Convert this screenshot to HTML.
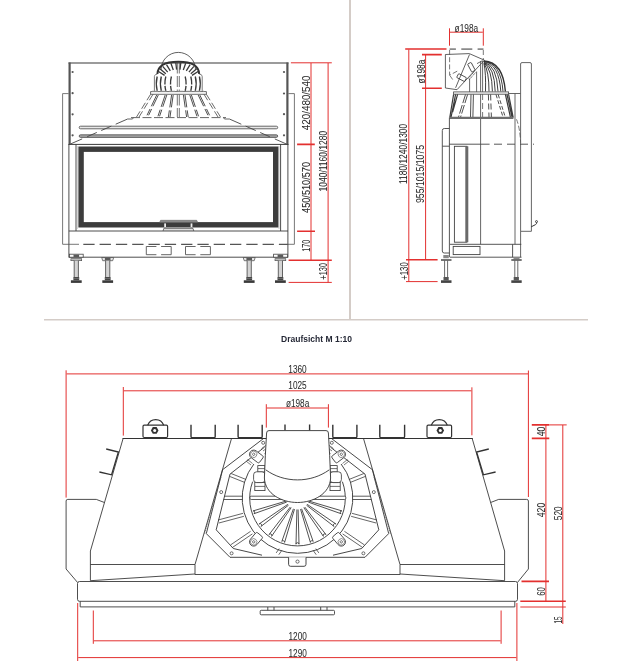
<!DOCTYPE html>
<html><head><meta charset="utf-8"><title>Draufsicht</title>
<style>
html,body{margin:0;padding:0;background:#fff;width:635px;height:668px;overflow:hidden}
svg{display:block;will-change:transform}
</style></head>
<body>
<svg width="635" height="668" viewBox="0 0 635 668" font-family="'Liberation Sans', sans-serif">
<defs>
<style>
.ln{fill:none;stroke:#3a3a3a;stroke-width:0.9}
.lt{fill:none;stroke:#555;stroke-width:0.8}
.lg{fill:none;stroke:#777;stroke-width:1.1}
.th{fill:none;stroke:#505050;stroke-width:2}
.ds{fill:none;stroke:#555;stroke-width:1.2;stroke-dasharray:11.3 5}
.rd{fill:none;stroke:#e3302f;stroke-width:1}
.rt{fill:none;stroke:#e3302f;stroke-width:1.6}
.tx{fill:#2a2a2a;font-size:10.2px;stroke:#2a2a2a;stroke-width:0.05}
</style>
</defs>

<!-- dividers -->
<line x1="350" y1="0" x2="350" y2="320" stroke="#d4ccc7" stroke-width="2"/>
<line x1="44" y1="319.8" x2="588" y2="319.8" stroke="#d4ccc7" stroke-width="1.6"/>
<text x="281" y="341.6" font-size="9.3" font-weight="bold" fill="#252836" textLength="71" lengthAdjust="spacingAndGlyphs">Draufsicht M 1:10</text>

<!-- ================= FRONT VIEW ================= -->
<g id="front">
<!-- upper box -->
<line x1="68.5" y1="63" x2="288.5" y2="63" stroke="#7a7a7a" stroke-width="1.3"/>
<line x1="69.6" y1="62.5" x2="69.6" y2="144.5" stroke="#555" stroke-width="2.2"/>
<line x1="287.4" y1="62.5" x2="287.4" y2="144.5" stroke="#555" stroke-width="2.2"/>
<g fill="#555">
<circle cx="72.6" cy="72" r="1.1"/><circle cx="72.6" cy="93.2" r="1.1"/><circle cx="72.6" cy="114.3" r="1.1"/><circle cx="72.6" cy="135.3" r="1.1"/>
<circle cx="284" cy="72" r="1.1"/><circle cx="284" cy="93.5" r="1.1"/><circle cx="284" cy="114.2" r="1.1"/><circle cx="284" cy="135.3" r="1.1"/>
</g>
<!-- side flanges -->
<path class="lt" d="M68.6,93.6 H62.6 V244.3"/>
<path class="lt" d="M288.4,93.6 H294.4 V244.3 H288"/>
<!-- divider line top section / glass -->
<line x1="68.6" y1="144.4" x2="288.4" y2="144.4" stroke="#3a3a3a" stroke-width="1"/>
<!-- lower box sides -->
<line class="ln" x1="68.9" y1="144" x2="68.9" y2="257.5"/>
<line class="ln" x1="287.9" y1="144" x2="287.9" y2="257.5"/>
<line class="ln" x1="76" y1="144.4" x2="76" y2="231"/>
<line class="ln" x1="280.6" y1="144.4" x2="280.6" y2="231"/>
<line x1="77.3" y1="146" x2="77.3" y2="229" stroke="#aaa" stroke-width="0.6"/>
<line x1="279" y1="146" x2="279" y2="229" stroke="#aaa" stroke-width="0.6"/>
<!-- glass frame -->
<rect x="81.1" y="149.2" width="194.6" height="75.6" fill="none" stroke="#3c3c3c" stroke-width="5.4"/>
<!-- handle -->
<path d="M159.6,222.4 L160.6,220.3 H196.7 L197.7,222.4 Z" fill="#8d8d8d" stroke="#555" stroke-width="0.5"/>
<rect x="164.2" y="223.4" width="1.8" height="3.6" fill="#eee"/>
<rect x="190.6" y="223.4" width="1.8" height="3.6" fill="#eee"/>
<path d="M163,231 L163.8,228.4 H193 L193.8,231" fill="#ddd" stroke="#444" stroke-width="0.7"/>
<!-- base -->
<line class="ln" x1="68.9" y1="231" x2="288" y2="231"/>
<line class="ds" x1="83.3" y1="244.3" x2="288" y2="244.3"/>
<line class="lt" x1="62.6" y1="244.3" x2="79" y2="244.3" stroke-width="1.1"/>
<line class="ln" x1="68.9" y1="257.2" x2="288" y2="257.2"/>
<path d="M156.4,246.5 H146.3 V254.7 H156.4 M161.1,246.5 H171.2 V254.7 H161.1 M195.6,246.5 H185.5 V254.7 H195.6 M200.3,246.5 H210.4 V254.7 H200.3" fill="none" stroke="#555" stroke-width="0.9"/>
<!-- FEET START -->
<rect x="69.4" y="254.2" width="13.8" height="3" fill="#fff" stroke="#444" stroke-width="0.8"/>
<rect x="73.50" y="254.6" width="5.6" height="2.4" fill="#5a5a5a"/>
<rect x="70.90" y="258.7" width="10.8" height="2" fill="#bbb" stroke="#444" stroke-width="0.6"/>
<rect x="74.20" y="260.7" width="4.2" height="16.3" fill="#d4d4d4"/>
<path d="M74.20,260.7 V277.0 M78.40,260.7 V277.0" fill="none" stroke="#4a4a4a" stroke-width="0.85"/>
<rect x="73.40" y="277.0" width="5.8" height="3.3" fill="#454545"/>
<line x1="73.40" y1="278.4" x2="79.20" y2="278.4" stroke="#999" stroke-width="0.5"/>
<rect x="70.90" y="280.3" width="10.8" height="2.6" fill="#3a3a3a"/>
<path d="M101.70,257.5 H113.70 L112.70,260.7 H102.70 Z" fill="#e6e6e6" stroke="#444" stroke-width="0.7"/>
<rect x="104.90" y="257.8" width="5.6" height="2.7" fill="#5a5a5a"/>
<rect x="105.60" y="260.7" width="4.2" height="16.3" fill="#d4d4d4"/>
<path d="M105.60,260.7 V277.0 M109.80,260.7 V277.0" fill="none" stroke="#4a4a4a" stroke-width="0.85"/>
<rect x="104.80" y="277.0" width="5.8" height="3.3" fill="#454545"/>
<line x1="104.80" y1="278.4" x2="110.60" y2="278.4" stroke="#999" stroke-width="0.5"/>
<rect x="102.30" y="280.3" width="10.8" height="2.6" fill="#3a3a3a"/>
<path d="M243.20,257.5 H255.20 L254.20,260.7 H244.20 Z" fill="#e6e6e6" stroke="#444" stroke-width="0.7"/>
<rect x="246.40" y="257.8" width="5.6" height="2.7" fill="#5a5a5a"/>
<rect x="247.10" y="260.7" width="4.2" height="16.3" fill="#d4d4d4"/>
<path d="M247.10,260.7 V277.0 M251.30,260.7 V277.0" fill="none" stroke="#4a4a4a" stroke-width="0.85"/>
<rect x="246.30" y="277.0" width="5.8" height="3.3" fill="#454545"/>
<line x1="246.30" y1="278.4" x2="252.10" y2="278.4" stroke="#999" stroke-width="0.5"/>
<rect x="243.80" y="280.3" width="10.8" height="2.6" fill="#3a3a3a"/>
<rect x="273.6" y="254.2" width="13.8" height="3" fill="#fff" stroke="#444" stroke-width="0.8"/>
<rect x="277.60" y="254.6" width="5.6" height="2.4" fill="#5a5a5a"/>
<rect x="275.00" y="258.7" width="10.8" height="2" fill="#bbb" stroke="#444" stroke-width="0.6"/>
<rect x="278.30" y="260.7" width="4.2" height="16.3" fill="#d4d4d4"/>
<path d="M278.30,260.7 V277.0 M282.50,260.7 V277.0" fill="none" stroke="#4a4a4a" stroke-width="0.85"/>
<rect x="277.50" y="277.0" width="5.8" height="3.3" fill="#454545"/>
<line x1="277.50" y1="278.4" x2="283.30" y2="278.4" stroke="#999" stroke-width="0.5"/>
<rect x="275.00" y="280.3" width="10.8" height="2.6" fill="#3a3a3a"/>

<!-- FEET END -->
<!-- rods -->
<rect x="79.2" y="126.2" width="198.5" height="2.6" rx="1.3" fill="#e8e8e8" stroke="#444" stroke-width="0.8"/>
<rect x="79.2" y="134.8" width="198.5" height="2.6" rx="1.3" fill="#a5a5a5" stroke="#4a4a4a" stroke-width="0.8"/>
<!-- dome -->
<g id="dome">
<!-- DOMETOP START -->
<path d="M161.1,69.6 A17.2,17.2 0 0 1 195.5,69.6" fill="none" stroke="#444" stroke-width="0.85"/>
<path d="M158.1,71.3 L164.6,75.4 M159.9,68.7 L165.8,73.7 M162.7,66.4 L167.7,72.2 M166.5,64.6 L170.3,70.9 M170.9,63.3 L173.3,70.0 M175.8,62.7 L176.6,69.6 M180.8,62.7 L180.0,69.6 M185.7,63.3 L183.3,70.0 M190.1,64.6 L186.3,70.9 M193.9,66.4 L188.9,72.2 M196.7,68.7 L190.8,73.7 M198.5,71.3 L192.0,75.4" fill="none" stroke="#3a3a3a" stroke-width="1.3"/>
<path d="M157.4,74 Q157.8,61.7 178.3,61.7 Q198.8,61.7 199.2,74" fill="none" stroke="#333" stroke-width="1.9"/>
<path d="M157.4,74 L155.6,74.6 Q154.4,75.2 154.4,76.6 V91.6 M199.2,74 L201,74.6 Q202.2,75.2 202.2,76.6 V91.6" fill="none" stroke="#555" stroke-width="0.8"/>
<path d="M157.2,76.5 Q155.4,83.5 157.2,90.8" fill="none" stroke="#3a3a3a" stroke-width="1.35"/>
<path d="M161.3,76.5 Q159.5,83.5 161.3,90.8" fill="none" stroke="#3a3a3a" stroke-width="1.35"/>
<path d="M165.8,76.5 Q164.0,83.5 165.8,90.8" fill="none" stroke="#3a3a3a" stroke-width="1.35" stroke-dasharray="8 1.5 6"/>
<path d="M171.4,76.5 Q169.6,83.5 171.4,90.8" fill="none" stroke="#3a3a3a" stroke-width="1.35" stroke-dasharray="8 1.5 6"/>
<path d="M185.2,76.5 Q187.0,83.5 185.2,90.8" fill="none" stroke="#3a3a3a" stroke-width="1.35" stroke-dasharray="8 1.5 6"/>
<path d="M190.8,76.5 Q192.6,83.5 190.8,90.8" fill="none" stroke="#3a3a3a" stroke-width="1.35" stroke-dasharray="8 1.5 6"/>
<path d="M195.3,76.5 Q197.1,83.5 195.3,90.8" fill="none" stroke="#3a3a3a" stroke-width="1.35"/>
<path d="M199.4,76.5 Q201.2,83.5 199.4,90.8" fill="none" stroke="#3a3a3a" stroke-width="1.35"/>
<path d="M177.3,62.5 V91.5 M179.3,62.5 V91.5 M177.3,94.5 V117 M179.3,94.5 V117" fill="none" stroke="#444" stroke-width="0.75" stroke-dasharray="11 2.5"/>

<!-- DOMETOP END -->
<!-- flange -->
<path d="M150.6,94.3 V91.6 H206.4 V94.3 Z" fill="#fff" stroke="#444" stroke-width="0.8"/>
<line x1="152" y1="91.2" x2="204" y2="91.2" stroke="#999" stroke-width="0.8" stroke-dasharray="6 2.5"/>
<!-- cone -->
<g stroke="#444" stroke-width="0.8" fill="none">
<path d="M150.6,94.3 L136.5,117 M153,94.3 L139,117" stroke-dasharray="7 3"/>
<path d="M206.4,94.3 L220.5,117 M204,94.3 L218,117" stroke-dasharray="7 3"/>
</g>
<g stroke="#3a3a3a" stroke-width="0.9" fill="none" stroke-dasharray="12.5 3 7">
<path d="M156.7,95 L146.2,117 M158.3,95 L147.8,117 M165.2,95 L157.7,117 M166.8,95 L159.3,117 M171.6,95 L168.4,117 M173.2,95 L170.0,117 M183.4,95 L186.6,117 M185.0,95 L188.2,117 M189.8,95 L197.2,117 M191.4,95 L198.8,117 M198.2,95 L208.8,117 M199.8,95 L210.4,117"/>
</g>
<line x1="131" y1="117.6" x2="226" y2="117.6" stroke="#555" stroke-width="0.9" stroke-dasharray="9 2.5"/>
</g>
<!-- dashed trapezoid -->
<path d="M127.6,119 L70,144.2" fill="none" stroke="#444" stroke-width="0.9" stroke-dasharray="13 4.8 11 4.8 10.5 5.5 13"/>
<path d="M229.4,119 L286.8,144.2" fill="none" stroke="#444" stroke-width="0.9" stroke-dasharray="13 4.8 11 4.8 10.5 5.5 13"/>
<path d="M127.6,119 H132.5 L133.5,117.6 M223.5,117.6 L224.5,119 H229.4" fill="none" stroke="#555" stroke-width="0.9"/>
</g>
<!-- front dims -->
<g id="frontdims">
<path class="rd" d="M290.9,62.8 H331.8 M311,63 V260 M328.1,63 V282.4"/>
<path class="rt" d="M297.1,144.4 H314.8 M297.1,231.3 H315 M288.6,260.2 H331.8"/>
<path class="rd" d="M288.6,282.4 H331.8" stroke-width="1.3"/>
<g class="tx">
<text transform="translate(309.6,130.2) rotate(-90)" textLength="54.7" lengthAdjust="spacingAndGlyphs">420/480/540</text>
<text transform="translate(309.8,212.9) rotate(-90)" textLength="50.9" lengthAdjust="spacingAndGlyphs">450/510/570</text>
<text transform="translate(309.8,251.8) rotate(-90)" textLength="12.2" lengthAdjust="spacingAndGlyphs">170</text>
<text transform="translate(326.9,191.4) rotate(-90)" textLength="60.5" lengthAdjust="spacingAndGlyphs">1040/1160/1280</text>
<text transform="translate(326.9,279.5) rotate(-90)" textLength="16.5" lengthAdjust="spacingAndGlyphs">+130</text>
</g>
</g>

<!-- ================= SIDE VIEW ================= -->
<g id="side">
<!-- dims -->
<path class="rd" d="M449.5,28.3 V45.7 M483.3,28.3 V45.7 M450,32.2 H482.8"/>
<path class="rt" d="M405.2,49 H446.5 M422,54.6 H441.8 M422,88.2 H441.8 M406,259.8 H437.6"/>
<path class="rd" d="M408.8,49.5 V281.6 M425.6,54.8 V259.5 M406,281.6 H437.6"/>
<g class="tx">
<text x="454.6" y="31.5" textLength="23.6" lengthAdjust="spacingAndGlyphs">ø198a</text>
<text transform="translate(424.6,83.4) rotate(-90)" textLength="23.9" lengthAdjust="spacingAndGlyphs">ø198a</text>
<text transform="translate(407.4,184) rotate(-90)" textLength="60.2" lengthAdjust="spacingAndGlyphs">1180/1240/1300</text>
<text transform="translate(424.3,203) rotate(-90)" textLength="58" lengthAdjust="spacingAndGlyphs">955/1015/1075</text>
<text transform="translate(407.8,279.8) rotate(-90)" textLength="17.6" lengthAdjust="spacingAndGlyphs">+130</text>
</g>
<!-- dashed pipe outline -->
<path d="M449.6,49.2 H483.5" fill="none" stroke="#8a8a8a" stroke-width="1.8" stroke-dasharray="6.3 5.4 11 5.3 6.4"/>
<path d="M483.3,50 V62" fill="none" stroke="#777" stroke-width="1" stroke-dasharray="5 3"/>
<!-- elbow -->
<path d="M445.4,54.5 L469.3,53.6 L484.4,60.2 L457,89.7 L445.4,88 Z" fill="#fff" stroke="#3a3a3a" stroke-width="0.8"/>
<path d="M469.5,54.5 L455.6,87.8" fill="none" stroke="#3a3a3a" stroke-width="0.8"/>
<path d="M449.6,50 V75.2 L457.5,71 M449.8,75.4 L453,80" fill="none" stroke="#555" stroke-width="0.8" stroke-dasharray="5 2.2"/>
<g fill="none" stroke="#3a3a3a" stroke-width="0.8">
<rect x="-4.5" y="-2" width="9" height="4" rx="0.6" transform="translate(471.4,67.2) rotate(62)"/>
<rect x="-4.5" y="-2.2" width="9" height="4.4" rx="0.6" transform="translate(461.6,77.6) rotate(28)"/>
</g>
<path d="M468,78.6 L474.8,71 M469.3,79.6 L476,72" fill="none" stroke="#444" stroke-width="0.9" stroke-dasharray="1.2 0.8"/>
<path d="M477,63.6 L482.6,60.6" fill="none" stroke="#444" stroke-width="0.8"/>
<path d="M469.6,78.5 V92 M476.6,71.5 V92" fill="none" stroke="#444" stroke-width="0.8"/>
<!-- dome quarter -->
<g fill="none" stroke="#333" stroke-width="0.95">
<path d="M484,61 Q503,62 505.4,91.5" stroke-width="1.4"/>
<path d="M484,61.3 Q501,63 503,91.5"/>
<path d="M484,61.6 Q499,64 500.8,91.5"/>
<path d="M484,62 Q497,65.5 498,91.5"/>
<path d="M484,62.4 Q494.5,67 495.2,91.5"/>
<path d="M484,62.8 Q492,69 492.4,91.5"/>
<path d="M484,63.2 Q489,71 489,91.5"/>
<path d="M484,63.6 Q486,73 485.5,91.5"/>
</g>
<line x1="480.6" y1="61" x2="480.6" y2="244.3" stroke="#555" stroke-width="0.9"/>
<line x1="482.6" y1="61" x2="482.6" y2="92" stroke="#444" stroke-width="0.8"/>
<line x1="482.6" y1="94" x2="482.6" y2="117" stroke="#555" stroke-width="0.8" stroke-dasharray="6 3"/>
<!-- flange -->
<rect x="453.6" y="91.9" width="55" height="2.3" fill="#f4f4f4" stroke="#444" stroke-width="0.8"/>
<!-- cone -->
<g fill="none" stroke="#3a3a3a" stroke-width="0.9">
<path d="M453.6,94.3 L449.8,117.5 M455.6,94.3 L451,117.5 M457.6,94.3 L452.6,112" stroke-width="1.2"/>
<path d="M465.5,94.5 L458.5,117 M467.6,94.5 L460.6,117" stroke-dasharray="9 2"/>
<path d="M471,94.5 L470.5,117 M473.4,94.5 L472.9,117"/>
<path d="M488.4,94.5 L489,117 M490.6,94.5 L491.4,117" stroke-dasharray="6 3"/>
<path d="M496,94.5 L503,117 M498.2,94.5 L505.2,117" stroke-dasharray="4 2"/>
<path d="M505.4,94.3 L510.4,117 M507,94.3 L512,117 M508.6,94.3 L513.2,117.5" stroke-width="1.2"/>
</g>
<line x1="449.6" y1="117.9" x2="513.4" y2="117.9" stroke="#6e6e6e" stroke-width="2.1"/>
<!-- right bar -->
<path d="M520.6,257.2 V64 Q520.6,62.6 522,62.6 H530 Q531.4,62.6 531.4,64 V231.3 H521" fill="none" stroke="#555" stroke-width="0.9"/>
<path d="M508.4,93.5 H520.6 M515,93.5 V244.3" fill="none" stroke="#555" stroke-width="0.9"/>
<path d="M516.5,119.3 Q520,128 520.6,142.7" fill="none" stroke="#555" stroke-width="0.8" stroke-dasharray="5 2"/>
<path d="M531.2,226.8 L535.6,224.6 Q536.8,223.8 536.6,222.6" fill="none" stroke="#333" stroke-width="1"/><circle cx="536.5" cy="221.6" r="1" fill="none" stroke="#333" stroke-width="0.9"/>
<!-- body -->
<line x1="449.4" y1="117.5" x2="449.4" y2="257.2" stroke="#444" stroke-width="0.9"/>
<path d="M449.4,128.5 H444.3 Q442.3,128.5 442.3,130.5 V251 Q442.3,253 444.3,253 H449.4 M442.3,146.2 H449.4" fill="none" stroke="#444" stroke-width="0.9"/>
<path d="M449.4,144.2 H489.6" fill="none" stroke="#444" stroke-width="0.9"/>
<path d="M494,144.2 H534" fill="none" stroke="#444" stroke-width="0.9" stroke-dasharray="8 5"/>
<rect x="454.4" y="146.3" width="12.5" height="95.9" fill="none" stroke="#444" stroke-width="0.9"/>
<rect x="465.3" y="146.3" width="3" height="95.9" fill="#6a6a6a" stroke="none"/>
<path d="M450,244.3 H521.3 M450,257.2 H521.5 M512.6,244.3 V257.2" fill="none" stroke="#444" stroke-width="0.9"/>
<rect x="453.2" y="246.4" width="26.8" height="8.2" fill="none" stroke="#444" stroke-width="0.9"/>
<!-- feet -->
<g>
<rect x="443.3" y="255" width="5.5" height="3.2" fill="#888"/>
<rect x="441" y="259.2" width="10.5" height="1.6" fill="#555"/>
<line x1="444.6" y1="260.6" x2="444.6" y2="277.5" stroke="#444" stroke-width="0.8"/>
<line x1="447.6" y1="260.6" x2="447.6" y2="277.5" stroke="#444" stroke-width="0.8"/>
<rect x="443.5" y="277" width="5.2" height="3.4" fill="#555"/>
<rect x="441" y="280.3" width="10.5" height="2.6" fill="#444"/>
</g>
<g>
<rect x="513.5" y="257.5" width="6" height="1.8" fill="#888"/>
<rect x="511.3" y="259.2" width="10.4" height="1.6" fill="#555"/>
<line x1="514.8" y1="260.6" x2="514.8" y2="277.5" stroke="#444" stroke-width="0.8"/>
<line x1="517.8" y1="260.6" x2="517.8" y2="277.5" stroke="#444" stroke-width="0.8"/>
<rect x="513.7" y="277" width="5.2" height="3.4" fill="#555"/>
<rect x="511.3" y="280.3" width="10.4" height="2.6" fill="#444"/>
</g>
</g>

<!-- ================= TOP VIEW ================= -->
<g id="top">
<!-- dims -->
<path class="rd" d="M66.1,370.3 V497.6 M528.4,370.5 V497 M66.6,373.9 H528 M123.3,387 V435.6 M471.9,387.3 V435.3 M123.8,390.8 H471.4 M266.3,404.2 V427.6 M328.4,404.2 V427.6 M266.8,408 H327.9"/>
<path class="rt" d="M531.8,424.9 H549.3 M531.8,438.4 H549.3 M521.5,581.4 H549 M520.3,601.3 H565.8"/>
<path class="rd" d="M549.3,424.9 H566.7 M545.9,425 V601 M562.8,425 V624 M520.3,607 H565.8 M77.7,603 V661 M516.9,603 V661 M93.3,610.5 V643.8 M501.1,610.5 V643.8 M93.8,640.8 H500.6 M78.2,657.6 H516.4"/>
<g class="tx">
<text x="288.3" y="372.9" textLength="18.4" lengthAdjust="spacingAndGlyphs">1360</text>
<text x="288.3" y="389.4" textLength="18.4" lengthAdjust="spacingAndGlyphs">1025</text>
<text x="285.9" y="407.2" textLength="23.4" lengthAdjust="spacingAndGlyphs">ø198a</text>
<text x="288.5" y="640.2" textLength="18.3" lengthAdjust="spacingAndGlyphs">1200</text>
<text x="288.5" y="657.2" textLength="18.3" lengthAdjust="spacingAndGlyphs">1290</text>
<text transform="translate(544.6,436.2) rotate(-90)" textLength="9.5" lengthAdjust="spacingAndGlyphs">40</text>
<text transform="translate(544.6,517.2) rotate(-90)" textLength="14.4" lengthAdjust="spacingAndGlyphs">420</text>
<text transform="translate(561.9,520.2) rotate(-90)" textLength="13.8" lengthAdjust="spacingAndGlyphs">520</text>
<text transform="translate(544.6,595.8) rotate(-90)" textLength="8.8" lengthAdjust="spacingAndGlyphs">60</text>
<text transform="translate(561.9,623.6) rotate(-90)" textLength="7" lengthAdjust="spacingAndGlyphs">15</text>
</g>
<!-- body outline -->
<g fill="none" stroke="#3a3a3a" stroke-width="0.9">
<path d="M123.1,438.5 L90.4,551 V580.7 M472.2,438.5 L504.6,551 V580.7"/>
<path d="M104.4,502.5 L96.3,499.4 H67.8 Q66.1,499.4 66.1,501 V569 L77.5,582.4"/>
<path d="M490.6,502.5 L498.7,499.4 H526.6 Q528.4,499.4 528.4,501 V569 L517.5,582.4"/>
<path d="M90.4,564.5 H195 M400,564.5 H504.6 M90.4,580.7 L195,574 M504.6,580.7 L400,574 M195,574.5 H400"/>
<path d="M231.5,438.5 L195,564.5 V574.5 M363.5,438.5 L400,564.5 V574.5"/>
<path d="M79.5,581.5 H515.5 Q517.5,581.5 517.5,583.5 V599.3 Q517.5,601.3 515.5,601.3 H79.5 Q77.5,601.3 77.5,599.3 V583.5 Q77.5,581.5 79.5,581.5 Z"/>
<path d="M80.2,601.3 V606.9 H514.8 V601.3"/>
<rect x="260.2" y="610.3" width="74.3" height="4.5" rx="1"/>
<path d="M267.8,607 V610.3 M274,607 V610.3 M320.7,607 V610.3 M327,607 V610.3"/>
</g>
<line x1="122.5" y1="438.5" x2="472.8" y2="438.5" stroke="#333" stroke-width="1.0"/>
<!-- brackets on back edge -->
<path d="M191,424.7 V436.4 Q191,437.6 192.2,437.6 H214.0 Q215.2,437.6 215.2,436.4 V424.7 M238.1,424.7 V436.4 Q238.1,437.6 239.29999999999998,437.6 H261.0 Q262.2,437.6 262.2,436.4 V424.7 M332.8,424.7 V436.4 Q332.8,437.6 334.0,437.6 H355.7 Q356.9,437.6 356.9,436.4 V424.7 M379.8,424.7 V436.4 Q379.8,437.6 381.0,437.6 H403.40000000000003 Q404.6,437.6 404.6,436.4 V424.7 M285,424.5 V430.5 M309.6,424.5 V430.5" fill="none" stroke="#333" stroke-width="1.4"/>
<!-- lugs -->
<g fill="none" stroke="#333" stroke-width="1.2">
<path d="M147.7,425.2 A8.5,8.5 0 0 1 163.7,425.2"/>
<rect x="143" y="425.2" width="24.6" height="12.3" rx="1.2"/>
<path d="M431.3,425.2 A8.5,8.5 0 0 1 447.3,425.2"/>
<rect x="427" y="425.2" width="24.6" height="12.3" rx="1.2"/>
</g>
<polygon points="158.5,430.4 156.6,433.8 152.8,433.8 150.9,430.4 152.8,427 156.6,427" fill="#333"/>
<circle cx="154.7" cy="430.4" r="1.5" fill="#fff"/>
<polygon points="444.1,430.4 442.2,433.8 438.4,433.8 436.5,430.4 438.4,427 442.2,427" fill="#333"/>
<circle cx="440.3" cy="430.4" r="1.5" fill="#fff"/>
<!-- BURNER START -->
<polyline points="263.0,438.9 222.6,469.7 206.3,533.6 230.0,557.3 365.0,557.3 388.7,533.6 372.4,469.7 332.0,438.9" fill="none" stroke="#333" stroke-width="0.9"/>
<polyline points="264.6,447.1 230.0,474.1 216.2,529.8 233.3,548.5 262.0,555.2" fill="none" stroke="#333" stroke-width="0.9"/>
<polyline points="330.4,447.1 365.0,474.1 378.8,529.8 361.7,548.5 333.0,555.2" fill="none" stroke="#333" stroke-width="0.9"/>
<path d="M221,477 L204.5,533.6 M374.0,477 L390.5,533.6" fill="none" stroke="#555" stroke-width="0.7" stroke-dasharray="1.5 0.8"/>
<path d="M253.9,464.0 A55.3,55.3 0 1 0 341.1,464.0" fill="none" stroke="#333" stroke-width="0.9"/>
<path d="M252.6,481.7 A47.8,47.8 0 1 0 342.4,481.7" fill="none" stroke="#333" stroke-width="0.9"/>
<path d="M224.4,496.2 H242.5 M352.5,496.2 H370.6 M223.6,499.5 H242.3 M352.7,499.5 H371.4" fill="none" stroke="#333" stroke-width="0.8"/>
<rect x="250" y="496.2" width="95.8" height="3.3" rx="1.2" fill="#fff" stroke="#333" stroke-width="0.8"/>
<path d="M286.7,502.1 L254.0,513.7 M286.4,501.0 L253.1,510.9 M253.1,510.9 A1.5,1.5 0 0 1 254.0,513.7 M288.5,505.2 L261.0,526.4 M287.9,504.3 L259.2,523.9 M259.2,523.9 A1.5,1.5 0 0 1 261.0,526.4 M291.2,507.6 L271.6,536.3 M290.3,507.0 L269.1,534.5 M269.1,534.5 A1.5,1.5 0 0 1 271.6,536.3 M294.5,509.1 L284.6,542.4 M293.4,508.8 L281.8,541.5 M281.8,541.5 A1.5,1.5 0 0 1 284.6,542.4 M298.1,509.5 L299.0,544.2 M296.9,509.5 L296.0,544.2 M296.0,544.2 A1.5,1.5 0 0 1 299.0,544.2 M301.6,508.8 L313.2,541.5 M300.5,509.1 L310.4,542.4 M310.4,542.4 A1.5,1.5 0 0 1 313.2,541.5 M304.7,507.0 L325.9,534.5 M303.8,507.6 L323.4,536.3 M323.4,536.3 A1.5,1.5 0 0 1 325.9,534.5 M307.1,504.3 L335.8,523.9 M306.5,505.2 L334.0,526.4 M334.0,526.4 A1.5,1.5 0 0 1 335.8,523.9 M308.6,501.0 L341.9,510.9 M308.3,502.1 L341.0,513.7 M341.0,513.7 A1.5,1.5 0 0 1 341.9,510.9" fill="none" stroke="#333" stroke-width="0.85"/>
<path d="M231.1,473.5 L246.1,479.5 M363.9,473.5 L348.9,479.5 M229.9,476.5 L244.9,482.5 M365.1,476.5 L350.1,482.5 M218.1,520.0 L243.1,513.3 M376.9,520.0 L351.9,513.3 M218.9,523.0 L243.9,516.3 M376.1,523.0 L351.1,516.3 M230.6,544.9 L250.6,531.3 M364.4,544.9 L344.4,531.3 M232.4,547.5 L252.4,533.9 M362.6,547.5 L342.6,533.9 M276.2,552.9 L279.2,548.6 M318.8,552.9 L315.8,548.6 M278.8,554.7 L281.8,550.4 M316.2,554.7 L313.2,550.4" fill="none" stroke="#333" stroke-width="0.75"/>
<g transform="translate(253.7,454.3) rotate(37)"><path d="M0,-4.2 H8 Q9.5,-4.2 9.5,-2.7 V2.7 Q9.5,4.2 8,4.2 H0 A4.2,4.2 0 0 1 0,-4.2 Z" fill="#fff" stroke="#333" stroke-width="0.8"/><circle r="3.2" fill="none" stroke="#555" stroke-width="0.6"/><circle r="1.2" fill="none" stroke="#333" stroke-width="0.6"/></g>
<g transform="translate(341.3,454.3) rotate(143)"><path d="M0,-4.2 H8 Q9.5,-4.2 9.5,-2.7 V2.7 Q9.5,4.2 8,4.2 H0 A4.2,4.2 0 0 1 0,-4.2 Z" fill="#fff" stroke="#333" stroke-width="0.8"/><circle r="3.2" fill="none" stroke="#555" stroke-width="0.6"/><circle r="1.2" fill="none" stroke="#333" stroke-width="0.6"/></g>
<g transform="translate(253.7,541.9) rotate(-50)"><path d="M0,-4.2 H8 Q9.5,-4.2 9.5,-2.7 V2.7 Q9.5,4.2 8,4.2 H0 A4.2,4.2 0 0 1 0,-4.2 Z" fill="#fff" stroke="#333" stroke-width="0.8"/><circle r="3.2" fill="none" stroke="#555" stroke-width="0.6"/><circle r="1.2" fill="none" stroke="#333" stroke-width="0.6"/></g>
<g transform="translate(341.3,541.9) rotate(-130)"><path d="M0,-4.2 H8 Q9.5,-4.2 9.5,-2.7 V2.7 Q9.5,4.2 8,4.2 H0 A4.2,4.2 0 0 1 0,-4.2 Z" fill="#fff" stroke="#333" stroke-width="0.8"/><circle r="3.2" fill="none" stroke="#555" stroke-width="0.6"/><circle r="1.2" fill="none" stroke="#333" stroke-width="0.6"/></g>
<circle cx="263.2" cy="442.8" r="1.5" fill="none" stroke="#333" stroke-width="0.7"/>
<circle cx="331.8" cy="442.8" r="1.5" fill="none" stroke="#333" stroke-width="0.7"/>
<circle cx="221.2" cy="492.1" r="1.5" fill="none" stroke="#333" stroke-width="0.7"/>
<circle cx="373.8" cy="492.1" r="1.5" fill="none" stroke="#333" stroke-width="0.7"/>
<circle cx="231.6" cy="553.3" r="1.5" fill="none" stroke="#333" stroke-width="0.7"/>
<circle cx="363.4" cy="553.3" r="1.5" fill="none" stroke="#333" stroke-width="0.7"/>
<path d="M288.6,557.3 V564.3 Q288.6,566.3 290.6,566.3 H304 Q306,566.3 306,564.3 V557.3" fill="#fff" stroke="#333" stroke-width="0.9"/><circle cx="297.5" cy="561.6" r="1.6" fill="none" stroke="#333" stroke-width="0.7"/>
<rect x="257.8" y="465.6" width="7.2" height="6.4" rx="0" fill="#fff" stroke="#333" stroke-width="0.8"/>
<rect x="254.8" y="482.4" width="10.2" height="8.2" rx="0" fill="#fff" stroke="#333" stroke-width="0.8"/>
<rect x="253.6" y="471.8" width="11.4" height="10.8" rx="3" fill="#fff" stroke="#333" stroke-width="0.8"/>
<path d="M258.0,468.6 H265.0 M255.0,486.4 H265.0" fill="none" stroke="#333" stroke-width="0.7"/>
<path d="M261.5,448.5 L266.5,445 M263.0,451 L267.0,448 M264.5,453.5 L267.0,451.5 M246.0,461 L251.0,465 M247.5,459.5 L252.5,463.5" fill="none" stroke="#444" stroke-width="0.7"/>
<rect x="330.0" y="465.6" width="7.2" height="6.4" rx="0" fill="#fff" stroke="#333" stroke-width="0.8"/>
<rect x="330.0" y="482.4" width="10.2" height="8.2" rx="0" fill="#fff" stroke="#333" stroke-width="0.8"/>
<rect x="330.0" y="471.8" width="11.4" height="10.8" rx="3" fill="#fff" stroke="#333" stroke-width="0.8"/>
<path d="M337.0,468.6 H330.0 M340.0,486.4 H330.0" fill="none" stroke="#333" stroke-width="0.7"/>
<path d="M333.5,448.5 L328.5,445 M332.0,451 L328.0,448 M330.5,453.5 L328.0,451.5 M349.0,461 L344.0,465 M347.5,459.5 L342.5,463.5" fill="none" stroke="#444" stroke-width="0.7"/>
<path d="M269,430.6 H326 Q328.4,430.6 328.4,433 Q329.8,455 330.6,478 C330,494 313,502.5 297.5,502.5 C282,502.5 265,494 264.4,478 Q265.2,455 266.6,433 Q266.6,430.6 269,430.6 Z" fill="#fff" stroke="#333" stroke-width="0.9"/>
<path d="M265.7,469.8 C275,476.5 286,479.9 297.5,479.9 C309,479.9 320,476.5 329.3,469.8" fill="none" stroke="#333" stroke-width="0.9"/>

<!-- BURNER END -->
<!-- side brackets -->
<path d="M106.2,449 L118.4,452 L111.6,474.8 L99.4,472" fill="none" stroke="#333" stroke-width="1.3"/>
<path d="M488.8,449 L476.6,452 L483.4,474.8 L495.6,472" fill="none" stroke="#333" stroke-width="1.3"/>
</g>

</svg>
</body></html>
